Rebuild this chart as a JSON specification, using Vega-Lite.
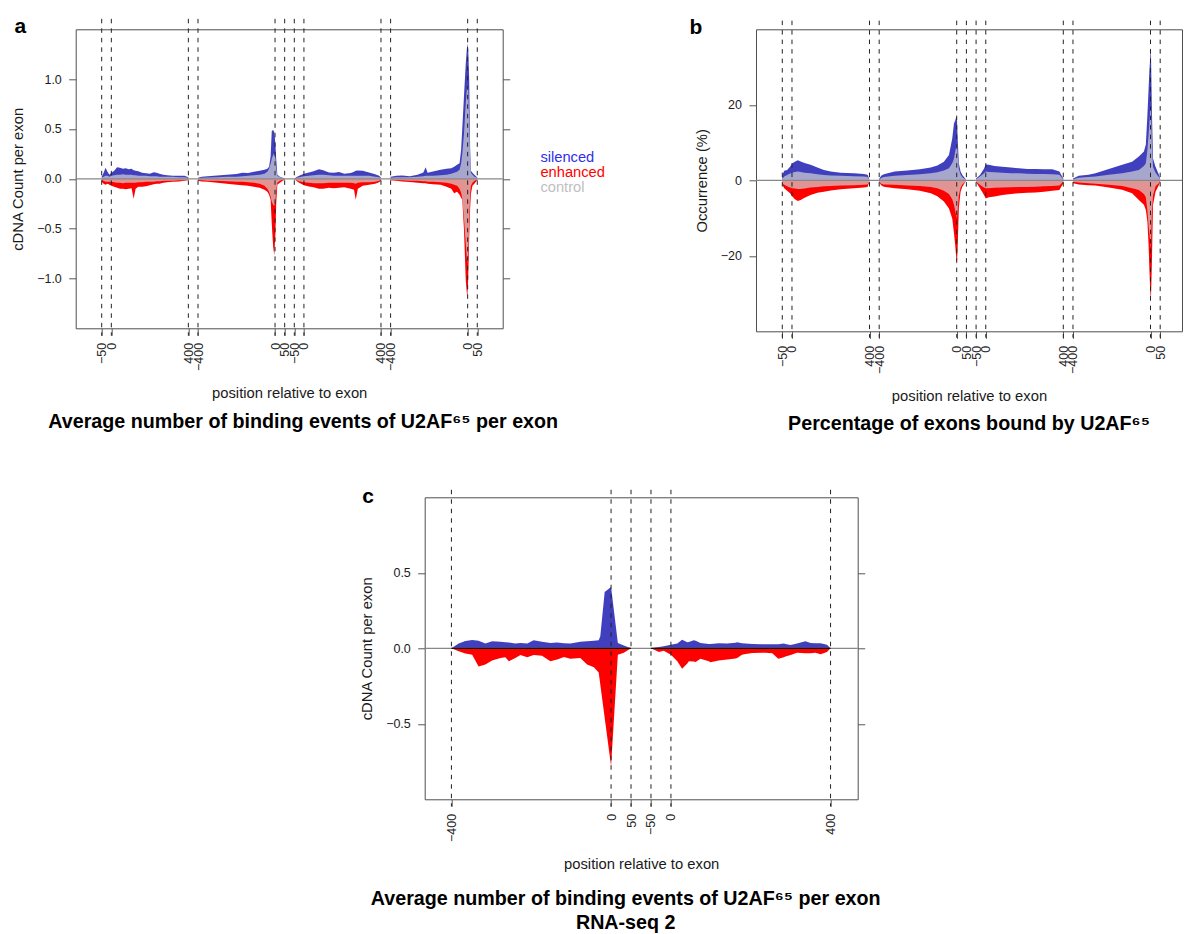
{
"$schema": "https://vega.github.io/schema/vega-lite/v6.json",
"padding": {"left": 9.7, "top": 14.3, "right": 0, "bottom": 0},
"bounds": "flush",
"spacing": 468,
"resolve": {"scale": {"color": "independent"}, "legend": {"color": "independent"}},
"config": {
 "font": "Liberation Sans",
 "view": {"stroke": "#4d4d4d", "strokeWidth": 1},
 "axis": {"labelFont": "Liberation Sans", "titleFont": "Liberation Sans", "labelFontSize": 12.5, "titleFontSize": 14.8, "titleFontWeight": "normal", "labelColor": "#1a1a1a", "titleColor": "#1a1a1a", "tickColor": "#555555", "tickWidth": 1, "tickSize": 7, "grid": false, "domain": false, "labelOverlap": false, "labelFlush": false},
 "title": {"font": "Liberation Sans", "fontSize": 19.7, "fontWeight": "bold", "color": "#000000", "lineHeight": 24}
},
"datasets": {
 "A": [
{"g":1,"u":0,"s":0.02,"e":-0.03,"cu":0.01,"cd":-0.01},
{"g":1,"u":10,"s":0.06,"e":-0.05,"cu":0.02,"cd":-0.02},
{"g":1,"u":20,"s":0.11,"e":-0.06,"cu":0.03,"cd":-0.03},
{"g":1,"u":30,"s":0.07,"e":-0.05,"cu":0.03,"cd":-0.03},
{"g":1,"u":40,"s":0.04,"e":-0.06,"cu":0.02,"cd":-0.03},
{"g":1,"u":50,"s":0.06,"e":-0.07,"cu":0.03,"cd":-0.03},
{"g":1,"u":65,"s":0.08,"e":-0.08,"cu":0.035,"cd":-0.035},
{"g":1,"u":80,"s":0.115,"e":-0.09,"cu":0.04,"cd":-0.04},
{"g":1,"u":95,"s":0.11,"e":-0.1,"cu":0.04,"cd":-0.04},
{"g":1,"u":110,"s":0.1,"e":-0.1,"cu":0.045,"cd":-0.045},
{"g":1,"u":125,"s":0.105,"e":-0.105,"cu":0.04,"cd":-0.04},
{"g":1,"u":140,"s":0.095,"e":-0.1,"cu":0.04,"cd":-0.04},
{"g":1,"u":155,"s":0.1,"e":-0.095,"cu":0.04,"cd":-0.04},
{"g":1,"u":166,"s":0.085,"e":-0.2,"cu":0.035,"cd":-0.04},
{"g":1,"u":176,"s":0.08,"e":-0.1,"cu":0.035,"cd":-0.04},
{"g":1,"u":190,"s":0.075,"e":-0.08,"cu":0.03,"cd":-0.035},
{"g":1,"u":210,"s":0.06,"e":-0.08,"cu":0.03,"cd":-0.035},
{"g":1,"u":230,"s":0.055,"e":-0.075,"cu":0.03,"cd":-0.03},
{"g":1,"u":250,"s":0.05,"e":-0.065,"cu":0.025,"cd":-0.03},
{"g":1,"u":270,"s":0.065,"e":-0.055,"cu":0.025,"cd":-0.03},
{"g":1,"u":285,"s":0.06,"e":-0.05,"cu":0.025,"cd":-0.025},
{"g":1,"u":300,"s":0.05,"e":-0.05,"cu":0.02,"cd":-0.025},
{"g":1,"u":320,"s":0.04,"e":-0.04,"cu":0.02,"cd":-0.02},
{"g":1,"u":340,"s":0.035,"e":-0.035,"cu":0.02,"cd":-0.02},
{"g":1,"u":370,"s":0.03,"e":-0.03,"cu":0.02,"cd":-0.02},
{"g":1,"u":400,"s":0.03,"e":-0.027,"cu":0.015,"cd":-0.015},
{"g":1,"u":430,"s":0.03,"e":-0.02,"cu":0.015,"cd":-0.015},
{"g":1,"u":450,"s":0.015,"e":-0.015,"cu":0.01,"cd":-0.01},
{"g":2,"u":500,"s":0.01,"e":-0.02,"cu":0.005,"cd":-0.01},
{"g":2,"u":520,"s":0.02,"e":-0.027,"cu":0.01,"cd":-0.015},
{"g":2,"u":550,"s":0.025,"e":-0.03,"cu":0.012,"cd":-0.02},
{"g":2,"u":600,"s":0.033,"e":-0.04,"cu":0.015,"cd":-0.02},
{"g":2,"u":650,"s":0.04,"e":-0.05,"cu":0.02,"cd":-0.025},
{"g":2,"u":700,"s":0.047,"e":-0.06,"cu":0.02,"cd":-0.03},
{"g":2,"u":730,"s":0.06,"e":-0.065,"cu":0.025,"cd":-0.03},
{"g":2,"u":760,"s":0.058,"e":-0.07,"cu":0.03,"cd":-0.035},
{"g":2,"u":790,"s":0.07,"e":-0.08,"cu":0.035,"cd":-0.04},
{"g":2,"u":820,"s":0.08,"e":-0.09,"cu":0.04,"cd":-0.05},
{"g":2,"u":845,"s":0.09,"e":-0.11,"cu":0.05,"cd":-0.07},
{"g":2,"u":860,"s":0.1,"e":-0.13,"cu":0.07,"cd":-0.1},
{"g":2,"u":869,"s":0.12,"e":-0.16,"cu":0.1,"cd":-0.13},
{"g":2,"u":877,"s":0.224,"e":-0.21,"cu":0.15,"cd":-0.18},
{"g":2,"u":883,"s":0.48,"e":-0.45,"cu":0.2,"cd":-0.23},
{"g":2,"u":890,"s":0.49,"e":-0.68,"cu":0.24,"cd":-0.26},
{"g":2,"u":896,"s":0.47,"e":-0.77,"cu":0.257,"cd":-0.27},
{"g":2,"u":902,"s":0.35,"e":-0.55,"cu":0.2,"cd":-0.22},
{"g":2,"u":906,"s":0.2,"e":-0.25,"cu":0.1,"cd":-0.12},
{"g":2,"u":912,"s":0.04,"e":-0.06,"cu":0.03,"cd":-0.04},
{"g":2,"u":925,"s":0.02,"e":-0.04,"cu":0.015,"cd":-0.02},
{"g":2,"u":940,"s":0.01,"e":-0.02,"cu":0.01,"cd":-0.01},
{"g":2,"u":950,"s":0.005,"e":-0.01,"cu":0.005,"cd":-0.005},
{"g":3,"u":1000,"s":0,"e":-0.005,"cu":0,"cd":-0.005},
{"g":3,"u":1010,"s":0.015,"e":-0.02,"cu":0.01,"cd":-0.015},
{"g":3,"u":1025,"s":0.03,"e":-0.04,"cu":0.015,"cd":-0.025},
{"g":3,"u":1050,"s":0.05,"e":-0.065,"cu":0.025,"cd":-0.035},
{"g":3,"u":1076,"s":0.064,"e":-0.077,"cu":0.03,"cd":-0.04},
{"g":3,"u":1100,"s":0.075,"e":-0.085,"cu":0.035,"cd":-0.045},
{"g":3,"u":1128,"s":0.097,"e":-0.1,"cu":0.04,"cd":-0.045},
{"g":3,"u":1150,"s":0.085,"e":-0.1,"cu":0.04,"cd":-0.045},
{"g":3,"u":1180,"s":0.064,"e":-0.09,"cu":0.035,"cd":-0.04},
{"g":3,"u":1205,"s":0.06,"e":-0.095,"cu":0.03,"cd":-0.04},
{"g":3,"u":1232,"s":0.067,"e":-0.09,"cu":0.03,"cd":-0.04},
{"g":3,"u":1260,"s":0.05,"e":-0.085,"cu":0.03,"cd":-0.04},
{"g":3,"u":1293,"s":0.057,"e":-0.1,"cu":0.03,"cd":-0.04},
{"g":3,"u":1310,"s":0.07,"e":-0.11,"cu":0.03,"cd":-0.045},
{"g":3,"u":1319,"s":0.08,"e":-0.21,"cu":0.03,"cd":-0.05},
{"g":3,"u":1330,"s":0.084,"e":-0.1,"cu":0.03,"cd":-0.04},
{"g":3,"u":1355,"s":0.08,"e":-0.07,"cu":0.03,"cd":-0.035},
{"g":3,"u":1388,"s":0.064,"e":-0.06,"cu":0.03,"cd":-0.035},
{"g":3,"u":1420,"s":0.045,"e":-0.05,"cu":0.02,"cd":-0.03},
{"g":3,"u":1440,"s":0.03,"e":-0.035,"cu":0.015,"cd":-0.02},
{"g":3,"u":1450,"s":0.012,"e":-0.02,"cu":0.01,"cd":-0.01},
{"g":4,"u":1500,"s":0.02,"e":-0.015,"cu":0.01,"cd":-0.01},
{"g":4,"u":1530,"s":0.03,"e":-0.02,"cu":0.015,"cd":-0.012},
{"g":4,"u":1560,"s":0.033,"e":-0.027,"cu":0.015,"cd":-0.015},
{"g":4,"u":1600,"s":0.025,"e":-0.033,"cu":0.015,"cd":-0.02},
{"g":4,"u":1640,"s":0.04,"e":-0.04,"cu":0.02,"cd":-0.02},
{"g":4,"u":1670,"s":0.064,"e":-0.045,"cu":0.025,"cd":-0.025},
{"g":4,"u":1682,"s":0.117,"e":-0.045,"cu":0.03,"cd":-0.025},
{"g":4,"u":1692,"s":0.06,"e":-0.05,"cu":0.03,"cd":-0.03},
{"g":4,"u":1720,"s":0.074,"e":-0.055,"cu":0.03,"cd":-0.03},
{"g":4,"u":1760,"s":0.09,"e":-0.06,"cu":0.035,"cd":-0.035},
{"g":4,"u":1790,"s":0.1,"e":-0.08,"cu":0.04,"cd":-0.04},
{"g":4,"u":1815,"s":0.107,"e":-0.1,"cu":0.05,"cd":-0.05},
{"g":4,"u":1830,"s":0.12,"e":-0.144,"cu":0.06,"cd":-0.06},
{"g":4,"u":1845,"s":0.14,"e":-0.13,"cu":0.07,"cd":-0.07},
{"g":4,"u":1858,"s":0.157,"e":-0.16,"cu":0.09,"cd":-0.1},
{"g":4,"u":1866,"s":0.29,"e":-0.19,"cu":0.15,"cd":-0.14},
{"g":4,"u":1872,"s":0.5,"e":-0.21,"cu":0.25,"cd":-0.2},
{"g":4,"u":1881,"s":0.83,"e":-0.51,"cu":0.45,"cd":-0.4},
{"g":4,"u":1890,"s":1.15,"e":-1.01,"cu":0.75,"cd":-0.65},
{"g":4,"u":1898,"s":1.355,"e":-1.2,"cu":0.95,"cd":-0.85},
{"g":4,"u":1903,"s":1.3,"e":-1.0,"cu":0.9,"cd":-0.75},
{"g":4,"u":1908,"s":1.0,"e":-0.6,"cu":0.6,"cd":-0.45},
{"g":4,"u":1913,"s":0.3,"e":-0.3,"cu":0.2,"cd":-0.15},
{"g":4,"u":1917,"s":0.08,"e":-0.15,"cu":0.06,"cd":-0.07},
{"g":4,"u":1925,"s":0.06,"e":-0.07,"cu":0.04,"cd":-0.04},
{"g":4,"u":1935,"s":0.04,"e":-0.05,"cu":0.02,"cd":-0.02},
{"g":4,"u":1950,"s":0.013,"e":-0.013,"cu":0.01,"cd":-0.01}
 ],
 "B": [
{"g":1,"u":0,"s":1.4,"e":-1.2,"cu":0.35,"cd":-0.8},
{"g":1,"u":10,"s":2.5,"e":-2.1,"cu":1.0,"cd":-1.2},
{"g":1,"u":25,"s":2.7,"e":-2.8,"cu":1.4,"cd":-1.6},
{"g":1,"u":40,"s":3.6,"e":-3.4,"cu":1.8,"cd":-1.9},
{"g":1,"u":52,"s":4.5,"e":-4.3,"cu":2.0,"cd":-2.1},
{"g":1,"u":65,"s":4.9,"e":-5.0,"cu":2.2,"cd":-2.2},
{"g":1,"u":80,"s":5.3,"e":-5.5,"cu":2.3,"cd":-2.3},
{"g":1,"u":95,"s":5.0,"e":-5.2,"cu":2.2,"cd":-2.3},
{"g":1,"u":115,"s":4.6,"e":-4.6,"cu":2.0,"cd":-2.2},
{"g":1,"u":146,"s":4.1,"e":-3.9,"cu":1.85,"cd":-1.9},
{"g":1,"u":181,"s":3.4,"e":-3.3,"cu":1.6,"cd":-1.75},
{"g":1,"u":215,"s":2.7,"e":-3.0,"cu":1.4,"cd":-1.6},
{"g":1,"u":250,"s":2.3,"e":-2.7,"cu":1.3,"cd":-1.5},
{"g":1,"u":301,"s":2.0,"e":-2.4,"cu":1.2,"cd":-1.4},
{"g":1,"u":370,"s":1.85,"e":-2.1,"cu":1.1,"cd":-1.3},
{"g":1,"u":421,"s":1.7,"e":-1.9,"cu":1.0,"cd":-1.2},
{"g":1,"u":440,"s":1.5,"e":-1.8,"cu":0.9,"cd":-1.1},
{"g":1,"u":449,"s":0.35,"e":-0.5,"cu":0.2,"cd":-0.3},
{"g":2,"u":500,"s":0.35,"e":-0.5,"cu":0.1,"cd":-0.3},
{"g":2,"u":510,"s":1.2,"e":-1.3,"cu":0.6,"cd":-0.9},
{"g":2,"u":524,"s":1.6,"e":-1.7,"cu":0.9,"cd":-1.1},
{"g":2,"u":580,"s":2.3,"e":-2.1,"cu":1.2,"cd":-1.2},
{"g":2,"u":645,"s":2.6,"e":-2.4,"cu":1.4,"cd":-1.4},
{"g":2,"u":710,"s":2.9,"e":-2.8,"cu":1.6,"cd":-1.5},
{"g":2,"u":766,"s":3.4,"e":-3.4,"cu":1.9,"cd":-1.8},
{"g":2,"u":800,"s":3.9,"e":-4.2,"cu":2.1,"cd":-2.1},
{"g":2,"u":834,"s":4.9,"e":-5.6,"cu":2.6,"cd":-2.8},
{"g":2,"u":860,"s":6.7,"e":-7.5,"cu":3.2,"cd":-3.6},
{"g":2,"u":877,"s":11.1,"e":-10.1,"cu":4.5,"cd":-5.0},
{"g":2,"u":886,"s":15.1,"e":-14,"cu":5.8,"cd":-6.5},
{"g":2,"u":892,"s":15.8,"e":-17,"cu":7.5,"cd":-8},
{"g":2,"u":896,"s":16.5,"e":-19.5,"cu":8.5,"cd":-9},
{"g":2,"u":901,"s":16.9,"e":-22.3,"cu":9.8,"cd":-10},
{"g":2,"u":905,"s":11,"e":-18,"cu":7,"cd":-8},
{"g":2,"u":911,"s":4.5,"e":-7.4,"cu":3,"cd":-4},
{"g":2,"u":920,"s":2.3,"e":-3.0,"cu":1.5,"cd":-2.0},
{"g":2,"u":929,"s":1.4,"e":-1.7,"cu":0.8,"cd":-1.1},
{"g":2,"u":946,"s":0.35,"e":-0.35,"cu":0.2,"cd":-0.3},
{"g":3,"u":1000,"s":0.5,"e":-0.5,"cu":0.3,"cd":-0.4},
{"g":3,"u":1020,"s":1.4,"e":-2.1,"cu":1.0,"cd":-1.2},
{"g":3,"u":1040,"s":3.0,"e":-3.8,"cu":1.8,"cd":-1.9},
{"g":3,"u":1050,"s":4.2,"e":-4.8,"cu":2.3,"cd":-2.1},
{"g":3,"u":1065,"s":4.1,"e":-4.5,"cu":2.2,"cd":-2.1},
{"g":3,"u":1095,"s":3.8,"e":-4.3,"cu":2.1,"cd":-2.0},
{"g":3,"u":1135,"s":3.6,"e":-3.9,"cu":2.0,"cd":-1.9},
{"g":3,"u":1180,"s":3.4,"e":-3.6,"cu":1.9,"cd":-1.85},
{"g":3,"u":1221,"s":3.2,"e":-3.4,"cu":1.85,"cd":-1.8},
{"g":3,"u":1265,"s":3.0,"e":-3.3,"cu":1.75,"cd":-1.75},
{"g":3,"u":1307,"s":3.0,"e":-3.2,"cu":1.7,"cd":-1.7},
{"g":3,"u":1350,"s":2.9,"e":-3.0,"cu":1.65,"cd":-1.6},
{"g":3,"u":1393,"s":2.9,"e":-2.8,"cu":1.6,"cd":-1.5},
{"g":3,"u":1430,"s":2.3,"e":-2.6,"cu":1.5,"cd":-1.4},
{"g":3,"u":1450,"s":0.5,"e":-0.8,"cu":0.3,"cd":-0.3},
{"g":4,"u":1500,"s":0.5,"e":-0.8,"cu":0.3,"cd":-0.4},
{"g":4,"u":1530,"s":1.2,"e":-1.1,"cu":0.7,"cd":-0.6},
{"g":4,"u":1580,"s":1.5,"e":-1.3,"cu":0.9,"cd":-0.8},
{"g":4,"u":1616,"s":1.85,"e":-1.4,"cu":1.0,"cd":-0.9},
{"g":4,"u":1685,"s":3.0,"e":-1.9,"cu":1.5,"cd":-1.2},
{"g":4,"u":1754,"s":4.1,"e":-2.5,"cu":1.85,"cd":-1.5},
{"g":4,"u":1805,"s":4.9,"e":-3.4,"cu":2.3,"cd":-2.1},
{"g":4,"u":1840,"s":6.3,"e":-5.2,"cu":2.7,"cd":-2.6},
{"g":4,"u":1866,"s":7.6,"e":-6.5,"cu":3.8,"cd":-3.6},
{"g":4,"u":1876,"s":9.5,"e":-7.9,"cu":4.5,"cd":-4.5},
{"g":4,"u":1884,"s":17.3,"e":-11,"cu":8,"cd":-8},
{"g":4,"u":1890,"s":24,"e":-17,"cu":12,"cd":-12},
{"g":4,"u":1894,"s":28.8,"e":-23,"cu":15,"cd":-14},
{"g":4,"u":1898,"s":32,"e":-28.5,"cu":18,"cd":-16},
{"g":4,"u":1902,"s":35.3,"e":-32.3,"cu":20,"cd":-18},
{"g":4,"u":1907,"s":19,"e":-22.4,"cu":10,"cd":-9},
{"g":4,"u":1913,"s":5.8,"e":-6.5,"cu":3.5,"cd":-4},
{"g":4,"u":1926,"s":3.6,"e":-3.0,"cu":2.0,"cd":-1.6},
{"g":4,"u":1944,"s":1.4,"e":-1.2,"cu":0.8,"cd":-0.7},
{"g":4,"u":1950,"s":0.3,"e":-0.3,"cu":0.2,"cd":-0.2}
 ],
 "C": [
{"g":1,"u":0,"s":0,"e":0},{"g":1,"u":18,"s":0.031,"e":-0.02},{"g":1,"u":35,"s":0.049,"e":-0.035},{"g":1,"u":52,"s":0.055,"e":-0.042},{"g":1,"u":68,"s":0.05,"e":-0.12},{"g":1,"u":85,"s":0.031,"e":-0.108},{"g":1,"u":102,"s":0.046,"e":-0.08},{"g":1,"u":123,"s":0.044,"e":-0.064},{"g":1,"u":135,"s":0.04,"e":-0.06},{"g":1,"u":144,"s":0.038,"e":-0.086},{"g":1,"u":160,"s":0.031,"e":-0.064},{"g":1,"u":173,"s":0.035,"e":-0.044},{"g":1,"u":190,"s":0.031,"e":-0.06},{"g":1,"u":206,"s":0.053,"e":-0.044},{"g":1,"u":227,"s":0.044,"e":-0.049},{"g":1,"u":248,"s":0.035,"e":-0.086},{"g":1,"u":265,"s":0.038,"e":-0.075},{"g":1,"u":282,"s":0.033,"e":-0.057},{"g":1,"u":298,"s":0.031,"e":-0.07},{"g":1,"u":323,"s":0.044,"e":-0.064},{"g":1,"u":340,"s":0.046,"e":-0.108},{"g":1,"u":357,"s":0.05,"e":-0.126},{"g":1,"u":369,"s":0.053,"e":-0.16},{"g":1,"u":373,"s":0.08,"e":-0.24},{"g":1,"u":384,"s":0.373,"e":-0.46},{"g":1,"u":400,"s":0.406,"e":-0.78},{"g":1,"u":417,"s":0.035,"e":-0.042},{"g":1,"u":432,"s":0.018,"e":-0.03},{"g":1,"u":450,"s":0,"e":0},
{"g":2,"u":500,"s":0,"e":0},{"g":2,"u":520,"s":0.009,"e":-0.024},{"g":2,"u":532,"s":0.013,"e":-0.016},{"g":2,"u":550,"s":0.024,"e":-0.042},{"g":2,"u":566,"s":0.031,"e":-0.086},{"g":2,"u":578,"s":0.057,"e":-0.135},{"g":2,"u":591,"s":0.04,"e":-0.1},{"g":2,"u":595,"s":0.042,"e":-0.086},{"g":2,"u":607,"s":0.053,"e":-0.088},{"g":2,"u":612,"s":0.05,"e":-0.09},{"g":2,"u":624,"s":0.035,"e":-0.07},{"g":2,"u":645,"s":0.029,"e":-0.085},{"g":2,"u":649,"s":0.029,"e":-0.093},{"g":2,"u":670,"s":0.033,"e":-0.08},{"g":2,"u":691,"s":0.031,"e":-0.075},{"g":2,"u":712,"s":0.037,"e":-0.068},{"g":2,"u":716,"s":0.04,"e":-0.065},{"g":2,"u":728,"s":0.033,"e":-0.042},{"g":2,"u":737,"s":0.031,"e":-0.038},{"g":2,"u":754,"s":0.028,"e":-0.031},{"g":2,"u":779,"s":0.027,"e":-0.029},{"g":2,"u":787,"s":0.026,"e":-0.03},{"g":2,"u":804,"s":0.026,"e":-0.033},{"g":2,"u":819,"s":0.026,"e":-0.07},{"g":2,"u":833,"s":0.031,"e":-0.06},{"g":2,"u":837,"s":0.029,"e":-0.055},{"g":2,"u":850,"s":0.022,"e":-0.045},{"g":2,"u":866,"s":0.031,"e":-0.03},{"g":2,"u":887,"s":0.046,"e":-0.033},{"g":2,"u":900,"s":0.035,"e":-0.033},{"g":2,"u":912,"s":0.033,"e":-0.029},{"g":2,"u":925,"s":0.033,"e":-0.04},{"g":2,"u":941,"s":0.024,"e":-0.024},{"g":2,"u":950,"s":0,"e":0}
 ],
 "VA": [{"u":0},{"u":50},{"u":450},{"u":500},{"u":900},{"u":950},{"u":1000},{"u":1050},{"u":1450},{"u":1500},{"u":1900},{"u":1950}],
 "VC": [{"u":0},{"u":400},{"u":450},{"u":500},{"u":550},{"u":950}]
},
"vconcat": [
 {
  "bounds": "flush",
  "spacing": 253.3,
  "resolve": {"scale": {"color": "independent"}, "legend": {"color": "independent"}},
  "hconcat": [
   {
    "width": 427, "height": 299,
    "title": {"text": "Average number of binding events of U2AF⁶⁵ per exon", "orient": "bottom", "anchor": "middle", "frame": "group", "offset": 12, "dx": 14},
    "resolve": {"axis": {"x": "independent", "y": "independent"}},
    "layer": [
     {"data": {"name": "A"}, "mark": {"type": "area"},
      "encoding": {
       "x": {"field": "u", "type": "quantitative", "scale": {"domain": [-135, 2082], "nice": false, "zero": false},
             "axis": {"orient": "bottom", "values": [0,50,450,500,900,950,1000,1050,1450,1500,1900,1950],
                      "labelExpr": "['−50','0','400','−400','0','50','−50','0','400','−400','0','50'][indexof([0,50,450,500,900,950,1000,1050,1450,1500,1900,1950], datum.value)]",
                      "labelAngle": -90, "labelPadding": 7, "title": "position relative to exon", "titlePadding": 15}},
       "y": {"field": "s", "type": "quantitative", "scale": {"domain": [-1.5, 1.5], "nice": false, "zero": false},
             "axis": {"orient": "left", "values": [-1,-0.5,0,0.5,1], "format": ".1f", "labelPadding": 7.4, "title": "cDNA Count per exon", "titlePadding": 11}},
       "y2": {"datum": 0},
       "detail": {"field": "g", "type": "nominal"},
       "color": {"datum": "silenced", "type": "nominal",
                 "scale": {"domain": ["silenced","enhanced","control"], "range": ["#4040bf","#ff0000","#d3d3d3"]},
                 "legend": {"orient": "none", "legendX": 450, "legendY": 121, "title": null, "symbolOpacity": 0, "symbolStrokeWidth": 0, "symbolSize": 1,
                            "labelFontSize": 14.7, "labelFont": "Liberation Sans", "labelOffset": 0, "rowPadding": -1, "padding": 0, "labelLimit": 300,
                            "encode": {"labels": {"update": {"fill": {"signal": "datum.value === 'silenced' ? '#3030e8' : (datum.value === 'enhanced' ? '#ff0000' : '#c0c0c0')"}}}}}}
      }},
     {"data": {"name": "A"}, "mark": {"type": "area"},
      "encoding": {
       "x": {"field": "u", "type": "quantitative", "axis": null},
       "y": {"field": "e", "type": "quantitative", "axis": null},
       "y2": {"datum": 0},
       "detail": {"field": "g", "type": "nominal"},
       "color": {"datum": "enhanced", "type": "nominal"}
      }},
     {"data": {"name": "A"}, "mark": {"type": "area", "opacity": 0.7},
      "encoding": {
       "x": {"field": "u", "type": "quantitative", "axis": null},
       "y": {"field": "cu", "type": "quantitative", "axis": null},
       "y2": {"datum": 0},
       "detail": {"field": "g", "type": "nominal"},
       "color": {"datum": "control", "type": "nominal"}
      }},
     {"data": {"name": "A"}, "mark": {"type": "area", "opacity": 0.7},
      "encoding": {
       "x": {"field": "u", "type": "quantitative", "axis": null},
       "y": {"field": "cd", "type": "quantitative", "axis": null},
       "y2": {"datum": 0},
       "detail": {"field": "g", "type": "nominal"},
       "color": {"datum": "control", "type": "nominal"}
      }},
     {"data": {"values": [{}]}, "mark": {"type": "rule", "color": "#888888", "strokeWidth": 1.2},
      "encoding": {
       "y": {"datum": 0, "type": "quantitative", "axis": {"orient": "right", "values": [-1,-0.5,0,0.5,1], "labels": false, "title": null}}
      }},
     {"data": {"name": "VA"}, "mark": {"type": "rule", "color": "#222222", "strokeDash": [4.5, 5], "strokeWidth": 1},
      "encoding": {
       "x": {"field": "u", "type": "quantitative",
             "axis": {"orient": "top", "labels": false, "ticks": false, "title": "a", "titleFontSize": 21, "titleFontWeight": "bold", "titleColor": "#000000",
                      "titleX": -61.7, "titleY": 3.4, "titleAlign": "left", "titleBaseline": "alphabetic", "titleAngle": 0}},
       "y": {"datum": 1.605, "type": "quantitative", "axis": null},
       "y2": {"datum": -1.575}
      }}
    ]
   },
   {
    "width": 426, "height": 302,
    "title": {"text": "Percentage of exons bound by U2AF⁶⁵", "orient": "bottom", "anchor": "middle", "frame": "group", "offset": 11, "dx": 0},
    "resolve": {"axis": {"x": "independent", "y": "independent"}},
    "layer": [
     {"data": {"name": "B"}, "mark": {"type": "area", "color": "#4040bf"},
      "encoding": {
       "x": {"field": "u", "type": "quantitative", "scale": {"domain": [-135.7, 2062.5], "nice": false, "zero": false},
             "axis": {"orient": "bottom", "values": [0,50,450,500,900,950,1000,1050,1450,1500,1900,1950],
                      "labelExpr": "['−50','0','400','−400','0','50','−50','0','400','−400','0','50'][indexof([0,50,450,500,900,950,1000,1050,1450,1500,1900,1950], datum.value)]",
                      "labelAngle": -90, "labelPadding": 7, "title": "position relative to exon", "titlePadding": 15}},
       "y": {"field": "s", "type": "quantitative", "scale": {"domain": [-40, 40], "nice": false, "zero": false},
             "axis": {"orient": "left", "values": [-20,0,20], "format": "d", "labelPadding": 7.6, "title": "Occurrence (%)", "titlePadding": 11}},
       "y2": {"datum": 0},
       "detail": {"field": "g", "type": "nominal"}
      }},
     {"data": {"name": "B"}, "mark": {"type": "area", "color": "#ff0000"},
      "encoding": {
       "x": {"field": "u", "type": "quantitative", "axis": null},
       "y": {"field": "e", "type": "quantitative", "axis": null},
       "y2": {"datum": 0},
       "detail": {"field": "g", "type": "nominal"}
      }},
     {"data": {"name": "B"}, "mark": {"type": "area", "color": "#d3d3d3", "opacity": 0.7},
      "encoding": {
       "x": {"field": "u", "type": "quantitative", "axis": null},
       "y": {"field": "cu", "type": "quantitative", "axis": null},
       "y2": {"datum": 0},
       "detail": {"field": "g", "type": "nominal"}
      }},
     {"data": {"name": "B"}, "mark": {"type": "area", "color": "#d3d3d3", "opacity": 0.7},
      "encoding": {
       "x": {"field": "u", "type": "quantitative", "axis": null},
       "y": {"field": "cd", "type": "quantitative", "axis": null},
       "y2": {"datum": 0},
       "detail": {"field": "g", "type": "nominal"}
      }},
     {"data": {"values": [{}]}, "mark": {"type": "rule", "color": "#888888", "strokeWidth": 1.2},
      "encoding": {
       "y": {"datum": 0, "type": "quantitative", "axis": null}
      }},
     {"data": {"name": "VA"}, "mark": {"type": "rule", "color": "#222222", "strokeDash": [4.5, 5], "strokeWidth": 1},
      "encoding": {
       "x": {"field": "u", "type": "quantitative",
             "axis": {"orient": "top", "labels": false, "ticks": false, "title": "b", "titleFontSize": 21, "titleFontWeight": "bold", "titleColor": "#000000",
                      "titleX": -67, "titleY": 4, "titleAlign": "left", "titleBaseline": "alphabetic", "titleAngle": 0}},
       "y": {"datum": 42.3, "type": "quantitative", "axis": null},
       "y2": {"datum": -41.7}
      }}
    ]
   }
  ]
 },
 {
  "bounds": "flush",
  "spacing": 0,
  "hconcat": [
   {"width": 349, "height": 10, "view": {"stroke": null}, "data": {"values": []}, "mark": "point"},
   {
    "width": 433, "height": 302,
    "title": {"text": ["Average number of binding events of U2AF⁶⁵ per exon", "RNA-seq 2"], "orient": "bottom", "anchor": "middle", "frame": "group", "offset": 18, "dx": -15.5},
    "resolve": {"axis": {"x": "independent", "y": "independent"}},
    "layer": [
     {"data": {"name": "C"}, "mark": {"type": "area", "color": "#4040bf"},
      "encoding": {
       "x": {"field": "u", "type": "quantitative", "scale": {"domain": [-67, 1018], "nice": false, "zero": false},
             "axis": {"orient": "bottom", "values": [0,400,450,500,550,950],
                      "labelExpr": "['−400','0','50','−50','0','400'][indexof([0,400,450,500,550,950], datum.value)]",
                      "labelAngle": -90, "labelPadding": 7, "title": "position relative to exon", "titlePadding": 15}},
       "y": {"field": "s", "type": "quantitative", "scale": {"domain": [-1, 1], "nice": false, "zero": false},
             "axis": {"orient": "left", "values": [-0.5,0,0.5], "format": ".1f", "labelPadding": 7.4, "title": "cDNA Count per exon", "titlePadding": 11}},
       "y2": {"datum": 0},
       "detail": {"field": "g", "type": "nominal"}
      }},
     {"data": {"name": "C"}, "mark": {"type": "area", "color": "#ff0000"},
      "encoding": {
       "x": {"field": "u", "type": "quantitative", "axis": null},
       "y": {"field": "e", "type": "quantitative", "axis": null},
       "y2": {"datum": 0},
       "detail": {"field": "g", "type": "nominal"}
      }},
     {"data": {"values": [{}]}, "mark": {"type": "rule", "color": "#888888", "strokeWidth": 1.2},
      "encoding": {
       "y": {"datum": 0, "type": "quantitative", "axis": {"orient": "right", "values": [-0.5,0,0.5], "labels": false, "title": null}}
      }},
     {"data": {"name": "C"}, "mark": {"type": "line", "color": "#111111", "strokeWidth": 1.2},
      "encoding": {
       "x": {"field": "u", "type": "quantitative", "axis": null},
       "y": {"datum": 0, "type": "quantitative", "axis": null},
       "detail": {"field": "g", "type": "nominal"}
      }},
     {"data": {"name": "VC"}, "mark": {"type": "rule", "color": "#222222", "strokeDash": [4.5, 5], "strokeWidth": 1},
      "encoding": {
       "x": {"field": "u", "type": "quantitative",
             "axis": {"orient": "top", "labels": false, "ticks": false, "title": "c", "titleFontSize": 21, "titleFontWeight": "bold", "titleColor": "#000000",
                      "titleX": -63, "titleY": 5.7, "titleAlign": "left", "titleBaseline": "alphabetic", "titleAngle": 0}},
       "y": {"datum": 1.05, "type": "quantitative", "axis": null},
       "y2": {"datum": -1.048}
      }}
    ]
   }
  ]
 }
]
}
